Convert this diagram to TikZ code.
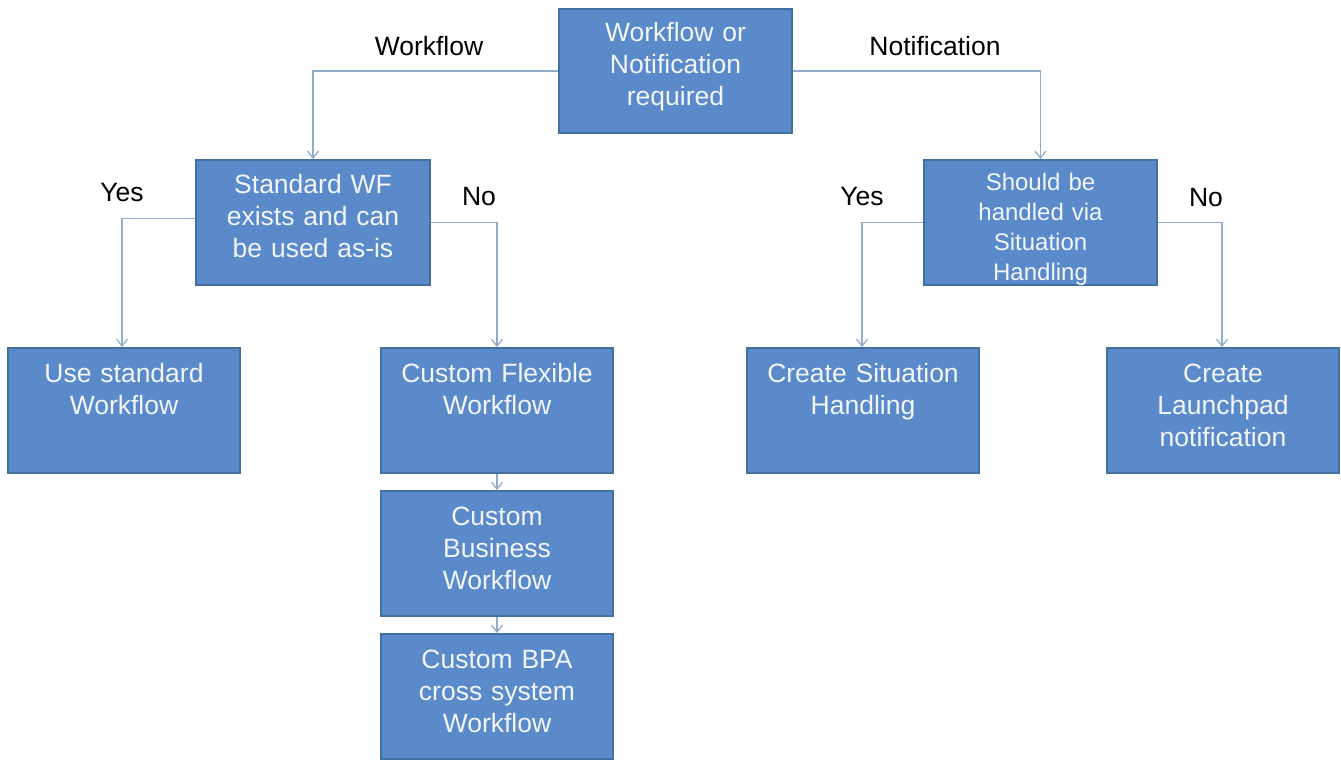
\documentclass[tikz,border=0pt]{standalone}
\usepackage{fontspec}
\setmainfont{Liberation Sans}
\usetikzlibrary{arrows.meta}
\definecolor{boxfill}{HTML}{5A8ACA}
\definecolor{boxline}{HTML}{41719C}
\definecolor{linkc}{HTML}{93ABCC}
\definecolor{boxtext}{HTML}{F2F5FA}
\tikzset{
  stepbox/.style={rectangle, draw=boxline, line width=1.8pt, fill=boxfill,
    minimum width=232pt, minimum height=125pt, inner sep=0pt},
  boxlabel/.style={anchor=base, text width=228pt, align=center, inner sep=0pt,
    text=boxtext, font=\fontsize{26.5}{32}\selectfont},
  smalllabel/.style={boxlabel, font=\fontsize{24}{30}\selectfont},
  branch/.style={font=\fontsize{26.5}{32}\selectfont, text=black, inner sep=0pt},
  link/.style={draw=linkc, line width=1.5pt,
    -{Straight Barb[length=7pt,width=11pt,line width=1.3pt]}},
}
\begin{document}
\begin{tikzpicture}[x=1pt,y=-1pt]
\useasboundingbox (0,0) rectangle (1341,760);

% decision boxes
\node[stepbox, minimum width=233pt, minimum height=124pt] (top) at (675.5,71) {};
\node[boxlabel] (toplbl) at ([yshift=-33pt]top.north) {Workflow or\\Notification\\required};

\node[stepbox, minimum width=234pt] (std) at (313,222.5) {};
\node[boxlabel] (stdlbl) at ([yshift=-34pt]std.north) {Standard WF\\exists and can\\be used as-is};

\node[stepbox, minimum width=233pt] (sh) at (1040.5,222.5) {};
\node[smalllabel] (shlbl) at ([yshift=-31.5pt]sh.north) {Should be\\handled via\\Situation\\Handling};

% outcome boxes
\node[stepbox] (use) at (124,410.5) {};
\node[boxlabel] (uselbl) at ([yshift=-35pt]use.north) {Use standard\\Workflow};

\node[stepbox] (flex) at (497,410.5) {};
\node[boxlabel] (flexlbl) at ([yshift=-35pt]flex.north) {Custom Flexible\\Workflow};

\node[stepbox] (bus) at (497,553.5) {};
\node[boxlabel] (buslbl) at ([yshift=-35pt]bus.north) {Custom\\Business\\Workflow};

\node[stepbox] (bpa) at (497,696.5) {};
\node[boxlabel] (bpalbl) at ([yshift=-35pt]bpa.north) {Custom BPA\\cross system\\Workflow};

\node[stepbox] (cre) at (863,410.5) {};
\node[boxlabel] (crelbl) at ([yshift=-35pt]cre.north) {Create Situation\\Handling};

\node[stepbox] (lau) at (1223,410.5) {};
\node[boxlabel] (laulbl) at ([yshift=-35pt]lau.north) {Create\\Launchpad\\notification};

% connectors
\draw[link] (top.west) -| (std.north);
\draw[link] (top.east) -| (sh.north);
\draw[link] ([yshift=4pt]std.west) -| ([xshift=-2pt]use.north);
\draw[link] (std.east) -| (flex.north);
\draw[link] (sh.west) -| ([xshift=-1pt]cre.north);
\draw[link] (sh.east) -| ([xshift=-1pt]lau.north);
\draw[link] (flex.south) -- (bus.north);
\draw[link] (bus.south) -- (bpa.north);

% branch labels
\node[branch] (lwf) at (429,46) {Workflow};
\node[branch] (lnt) at (935,46) {Notification};
\node[branch] (ly1) at (122,193) {Yes};
\node[branch] (ln1) at (479,197) {No};
\node[branch] (ly2) at (862,197) {Yes};
\node[branch] (ln2) at (1206,198) {No};
\end{tikzpicture}
\end{document}
